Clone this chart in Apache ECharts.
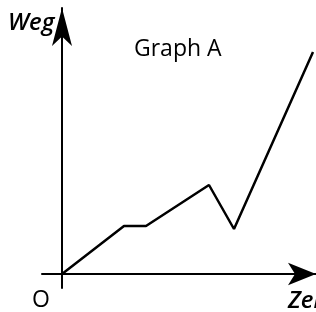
<!DOCTYPE html>
<html>
<head>
<meta charset="utf-8">
<script src="https://cdn.jsdelivr.net/npm/echarts@6/dist/echarts.min.js"></script>
<style>html,body{margin:0;padding:0;background:#fff;}#c{width:316px;height:312px;}</style>
</head>
<body>
<div id="c"></div>
<script>
const xValues = [0, 2.48, 3.36, 5.88, 6.88, 10.04];
const yValues = [0, 1.92, 1.92, 3.56, 1.80, 8.88];
const titleText = 'Graph A';
const yName = 'Weg';
const xName = 'Zeit';
const originLabel = 'O';

const chart = echarts.init(document.getElementById('c'), null, {renderer: 'canvas'});
const font = '"Open Sans", "Noto Sans", sans-serif';
chart.setOption({
  animation: false,
  backgroundColor: '#fff',
  title: {
    text: titleText, left: 129, top: 33,
    textStyle: {fontFamily: font, fontSize: 23, fontWeight: 'normal', color: '#000'}
  },
  grid: {left: 42, top: 8, width: 274, bottom: 24, containLabel: false},
  xAxis: {
    type: 'value', min: -0.8, max: 10.16,
    axisLine: {onZero: true, symbol: ['none', 'arrow'], symbolSize: [17, 28], lineStyle: {color: '#000', width: 2}},
    axisTick: {show: false}, axisLabel: {show: false}, splitLine: {show: false}
  },
  yAxis: {
    type: 'value', min: -0.56, max: 10.64,
    axisLine: {onZero: true, symbol: ['none', 'arrow'], symbolSize: [15, 38], lineStyle: {color: '#000', width: 2}},
    axisTick: {show: false}, axisLabel: {show: false}, splitLine: {show: false}
  },
  graphic: [
    {type: 'text', left: 8, top: 11, style: {text: yName, fontFamily: font, fontSize: 24, fontStyle: 'italic', fontWeight: 600, fill: '#000'}},
    {type: 'text', left: 32, top: 289, style: {text: originLabel, fontFamily: font, fontSize: 23, fill: '#000'}},
    {type: 'text', left: 288, top: 289, style: {text: xName, fontFamily: font, fontSize: 24, fontStyle: 'italic', fontWeight: 600, fill: '#000'}}
  ],
  series: [{
    type: 'line',
    data: xValues.map((x, i) => [x, yValues[i]]),
    symbol: 'none',
    lineStyle: {color: '#000', width: 2.5},
    z: 1
  }]
});
</script>
</body>
</html>
